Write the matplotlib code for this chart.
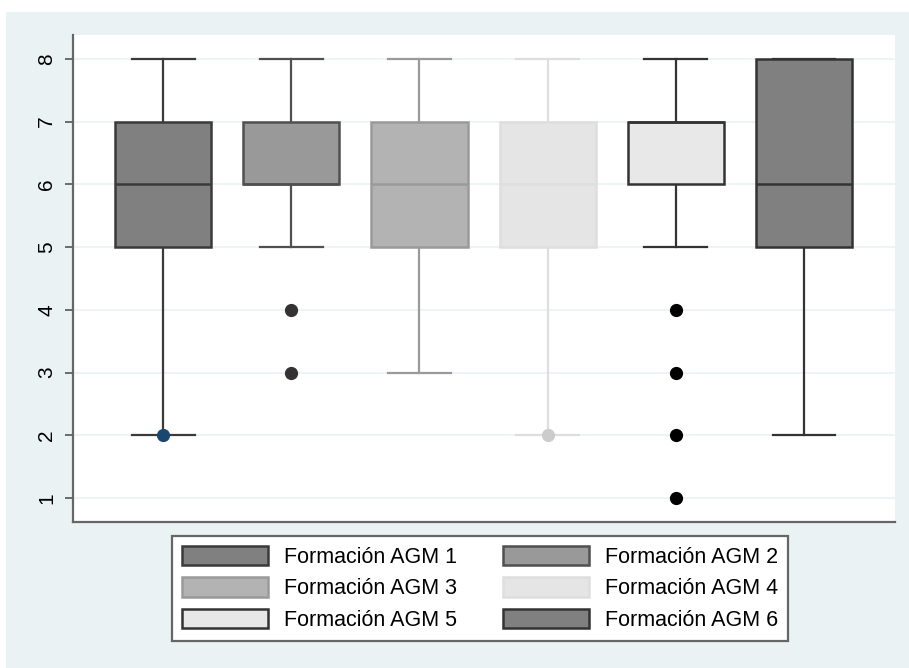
import matplotlib
matplotlib.use("Agg")
import matplotlib.pyplot as plt
from matplotlib.patches import Patch, Rectangle

plt.rcParams["font.family"] = ["Liberation Sans", "DejaVu Sans"]

labels = ["Formación AGM 1", "Formación AGM 2", "Formación AGM 3",
          "Formación AGM 4", "Formación AGM 5", "Formación AGM 6"]
q1 = [5, 6, 5, 5, 6, 5]
med = [6, 6, 6, 6, 7, 6]
q3 = [7, 7, 7, 7, 7, 8]
whislo = [2, 5, 3, 2, 5, 2]
whishi = [8, 8, 8, 8, 8, 8]
fliers = [[2], [4, 3], [], [2], [4, 3, 2, 1], []]

face_colors = ["#808080", "#999999", "#b3b3b3", "#e5e5e5", "#e8e8e8", "#808080"]
edge_colors = ["#3a3a3a", "#505050", "#9a9a9a", "#dedede", "#333333", "#333333"]
flier_colors = ["#1a476f", "#333333", "#b3b3b3", "#cccccc", "#000000", "#333333"]

bg = "#eaf2f3"

fig = plt.figure(figsize=(9.09, 6.68), dpi=100, facecolor="white")
fig.patches.append(Rectangle((6 / 909, 0), 1, 1 - 12 / 668, transform=fig.transFigure,
                             facecolor=bg, edgecolor="none", zorder=-10))
ax = fig.add_axes([73 / 909, 1 - 522 / 668, 822 / 909, 487 / 668])
ax.set_facecolor("white")

stats = []
for i in range(6):
    stats.append(dict(label=labels[i], q1=q1[i], med=med[i], q3=q3[i],
                      whislo=whislo[i], whishi=whishi[i], fliers=fliers[i]))

res = ax.bxp(stats, positions=range(1, 7), widths=0.75, capwidths=0.49,
             patch_artist=True, showfliers=True)

for i in range(6):
    box = res["boxes"][i]
    box.set_facecolor(face_colors[i])
    box.set_edgecolor(edge_colors[i])
    box.set_linewidth(1.8)
    box.set_zorder(3)
    res["medians"][i].set_color(edge_colors[i])
    res["medians"][i].set_linewidth(1.8)
    res["medians"][i].set_zorder(4)
    for ln in res["whiskers"][2 * i:2 * i + 2] + res["caps"][2 * i:2 * i + 2]:
        ln.set_color(edge_colors[i])
        ln.set_linewidth(1.6)
        ln.set_zorder(2)
    fl = res["fliers"][i]
    fl.set_marker("o")
    fl.set_markerfacecolor(flier_colors[i])
    fl.set_markeredgecolor(flier_colors[i])
    fl.set_markersize(8.5)
    fl.set_zorder(5)

ax.set_xlim(0.297, 6.71)
ax.set_ylim(0.62, 8.38)
ax.set_xticks([])
ax.set_yticks(range(1, 9))
ax.set_yticklabels([str(v) for v in range(1, 9)], rotation=90, va="center", fontsize=15)
ax.tick_params(axis="y", length=6, width=1.2, color="#555555", pad=6)
ax.yaxis.grid(True, color=bg, linewidth=1.2, zorder=0)
ax.set_axisbelow(True)
for s in ["top", "right"]:
    ax.spines[s].set_visible(False)
for s in ["left", "bottom"]:
    ax.spines[s].set_color("#666666")
    ax.spines[s].set_linewidth(1.6)

handles = [Patch(facecolor=face_colors[i], edgecolor=edge_colors[i], linewidth=1.8)
           for i in range(6)]
# legend fills row by row: 1 2 / 3 4 / 5 6
order = [0, 2, 4, 1, 3, 5]
leg = fig.legend([handles[i] for i in order], [labels[i] for i in order], ncol=2,
                 loc="upper center", bbox_to_anchor=(480 / 909, 1 - 536 / 668),
                 borderaxespad=0, fontsize=15.5, handlelength=4.0, handleheight=1.0,
                 handletextpad=0.75, labelspacing=0.45, columnspacing=2.1,
                 borderpad=0.45, fancybox=False, framealpha=1)
leg.get_frame().set_edgecolor("#666666")
leg.get_frame().set_linewidth(1.6)

fig.savefig("out.png", dpi=100, facecolor=fig.get_facecolor())
